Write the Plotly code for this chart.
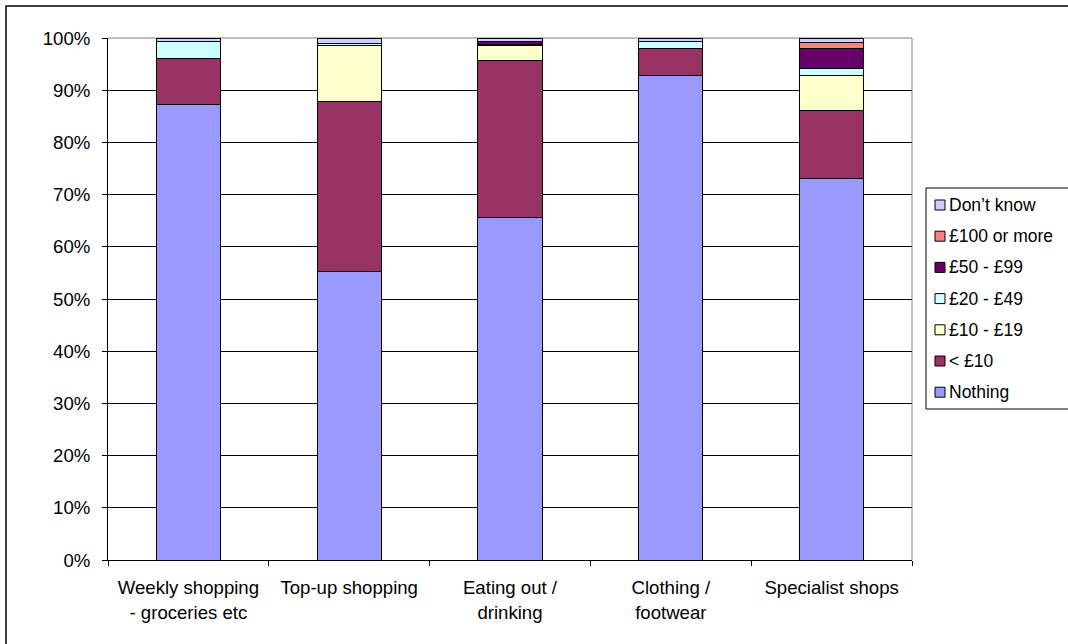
import plotly.graph_objects as go

categories = ["Weekly shopping<br>- groceries etc", "Top-up shopping", "Eating out /<br>drinking",
              "Clothing /<br>footwear", "Specialist shops"]
series_names = ["Nothing", "< £10", "£10 - £19", "£20 - £49", "£50 - £99", "£100 or more", "Don’t know"]
nothing = [87.2, 55.2, 65.7, 92.8, 73.0]
under10 = [8.9, 32.6, 30.0, 5.1, 13.2]
p10_19 = [0.0, 10.7, 2.8, 0.0, 6.6]
p20_49 = [3.2, 0.5, 0.3, 1.4, 1.3]
p50_99 = [0.0, 0.0, 0.5, 0.0, 3.8]
p100 = [0.0, 0.0, 0.0, 0.0, 1.3]
dontknow = [0.7, 1.0, 0.7, 0.7, 0.8]
series_values = [nothing, under10, p10_19, p20_49, p50_99, p100, dontknow]
colors = ["#9999FF", "#993366", "#FFFFCC", "#CCFFFF", "#660066", "#FF8080", "#CCCCFF"]
y_ticks = [0, 10, 20, 30, 40, 50, 60, 70, 80, 90, 100]
y_ticklabels = [f"{v}%" for v in y_ticks]

FONT = "Liberation Sans, Arial, sans-serif"
AXIS_FS = 18.6
LEG_FS = 17.5
W, H = 1068, 644
L, R, T, B = 108, 156, 38, 84
pw, ph = W - L - R, H - T - B

fig = go.Figure()
for name, vals, col in zip(series_names, series_values, colors):
    fig.add_trace(go.Bar(x=categories, y=vals, name=name, marker_color=col,
                         marker_line_color="black", marker_line_width=1, showlegend=False))

def px_x(x):
    return (x - L) / pw

def px_y(y):
    return (H - B - y) / ph

shapes = [
    # outer chart border
    dict(type="rect", xref="paper", yref="paper", x0=px_x(6), x1=px_x(1080), y0=px_y(660), y1=px_y(6),
         line=dict(color="black", width=1.5), layer="below"),
    # plot area top/right grey border
    dict(type="line", xref="paper", yref="paper", x0=0, x1=1, y0=1, y1=1,
         line=dict(color="#808080", width=1), layer="between"),
    dict(type="line", xref="paper", yref="paper", x0=1, x1=1, y0=0, y1=1,
         line=dict(color="#808080", width=1), layer="between"),
    # legend box
    dict(type="rect", xref="paper", yref="paper", x0=px_x(926), x1=px_x(1080), y0=px_y(409), y1=px_y(188),
         line=dict(color="black", width=1)),
]
annotations = []
for i, (name, col) in enumerate(zip(series_names[::-1], colors[::-1])):
    yc = 205 + 31.2 * i
    shapes.append(dict(type="rect", xref="paper", yref="paper", x0=px_x(935), x1=px_x(945),
                       y0=px_y(yc + 5), y1=px_y(yc - 5), fillcolor=col,
                       line=dict(color="black", width=1)))
    annotations.append(dict(xref="paper", yref="paper", x=px_x(947), y=px_y(yc), text=name,
                            showarrow=False, xanchor="left", yanchor="middle",
                            font=dict(family=FONT, size=LEG_FS, color="black")))

fig.update_layout(
    width=W, height=H, barmode="stack", bargap=0.6,
    margin=dict(l=L, r=R, t=T, b=B, pad=0),
    paper_bgcolor="white", plot_bgcolor="white",
    font=dict(family=FONT, size=AXIS_FS, color="black"),
    shapes=shapes, annotations=annotations,
)
fig.update_xaxes(showline=True, linecolor="black", linewidth=1, ticks="outside", tickson="boundaries",
                 ticklen=5, tickcolor="black", showgrid=False, ticklabelstandoff=11,
                 tickfont=dict(family=FONT, size=AXIS_FS, color="black"))
fig.update_yaxes(range=[0, 100], tickvals=y_ticks, ticktext=y_ticklabels, showline=True,
                 linecolor="black", linewidth=1, ticks="outside", ticklen=5, tickcolor="black",
                 showgrid=True, gridcolor="black", gridwidth=1, zeroline=False,
                 ticklabelstandoff=8,
                 tickfont=dict(family=FONT, size=AXIS_FS, color="black"))

fig.write_html("out.html")
